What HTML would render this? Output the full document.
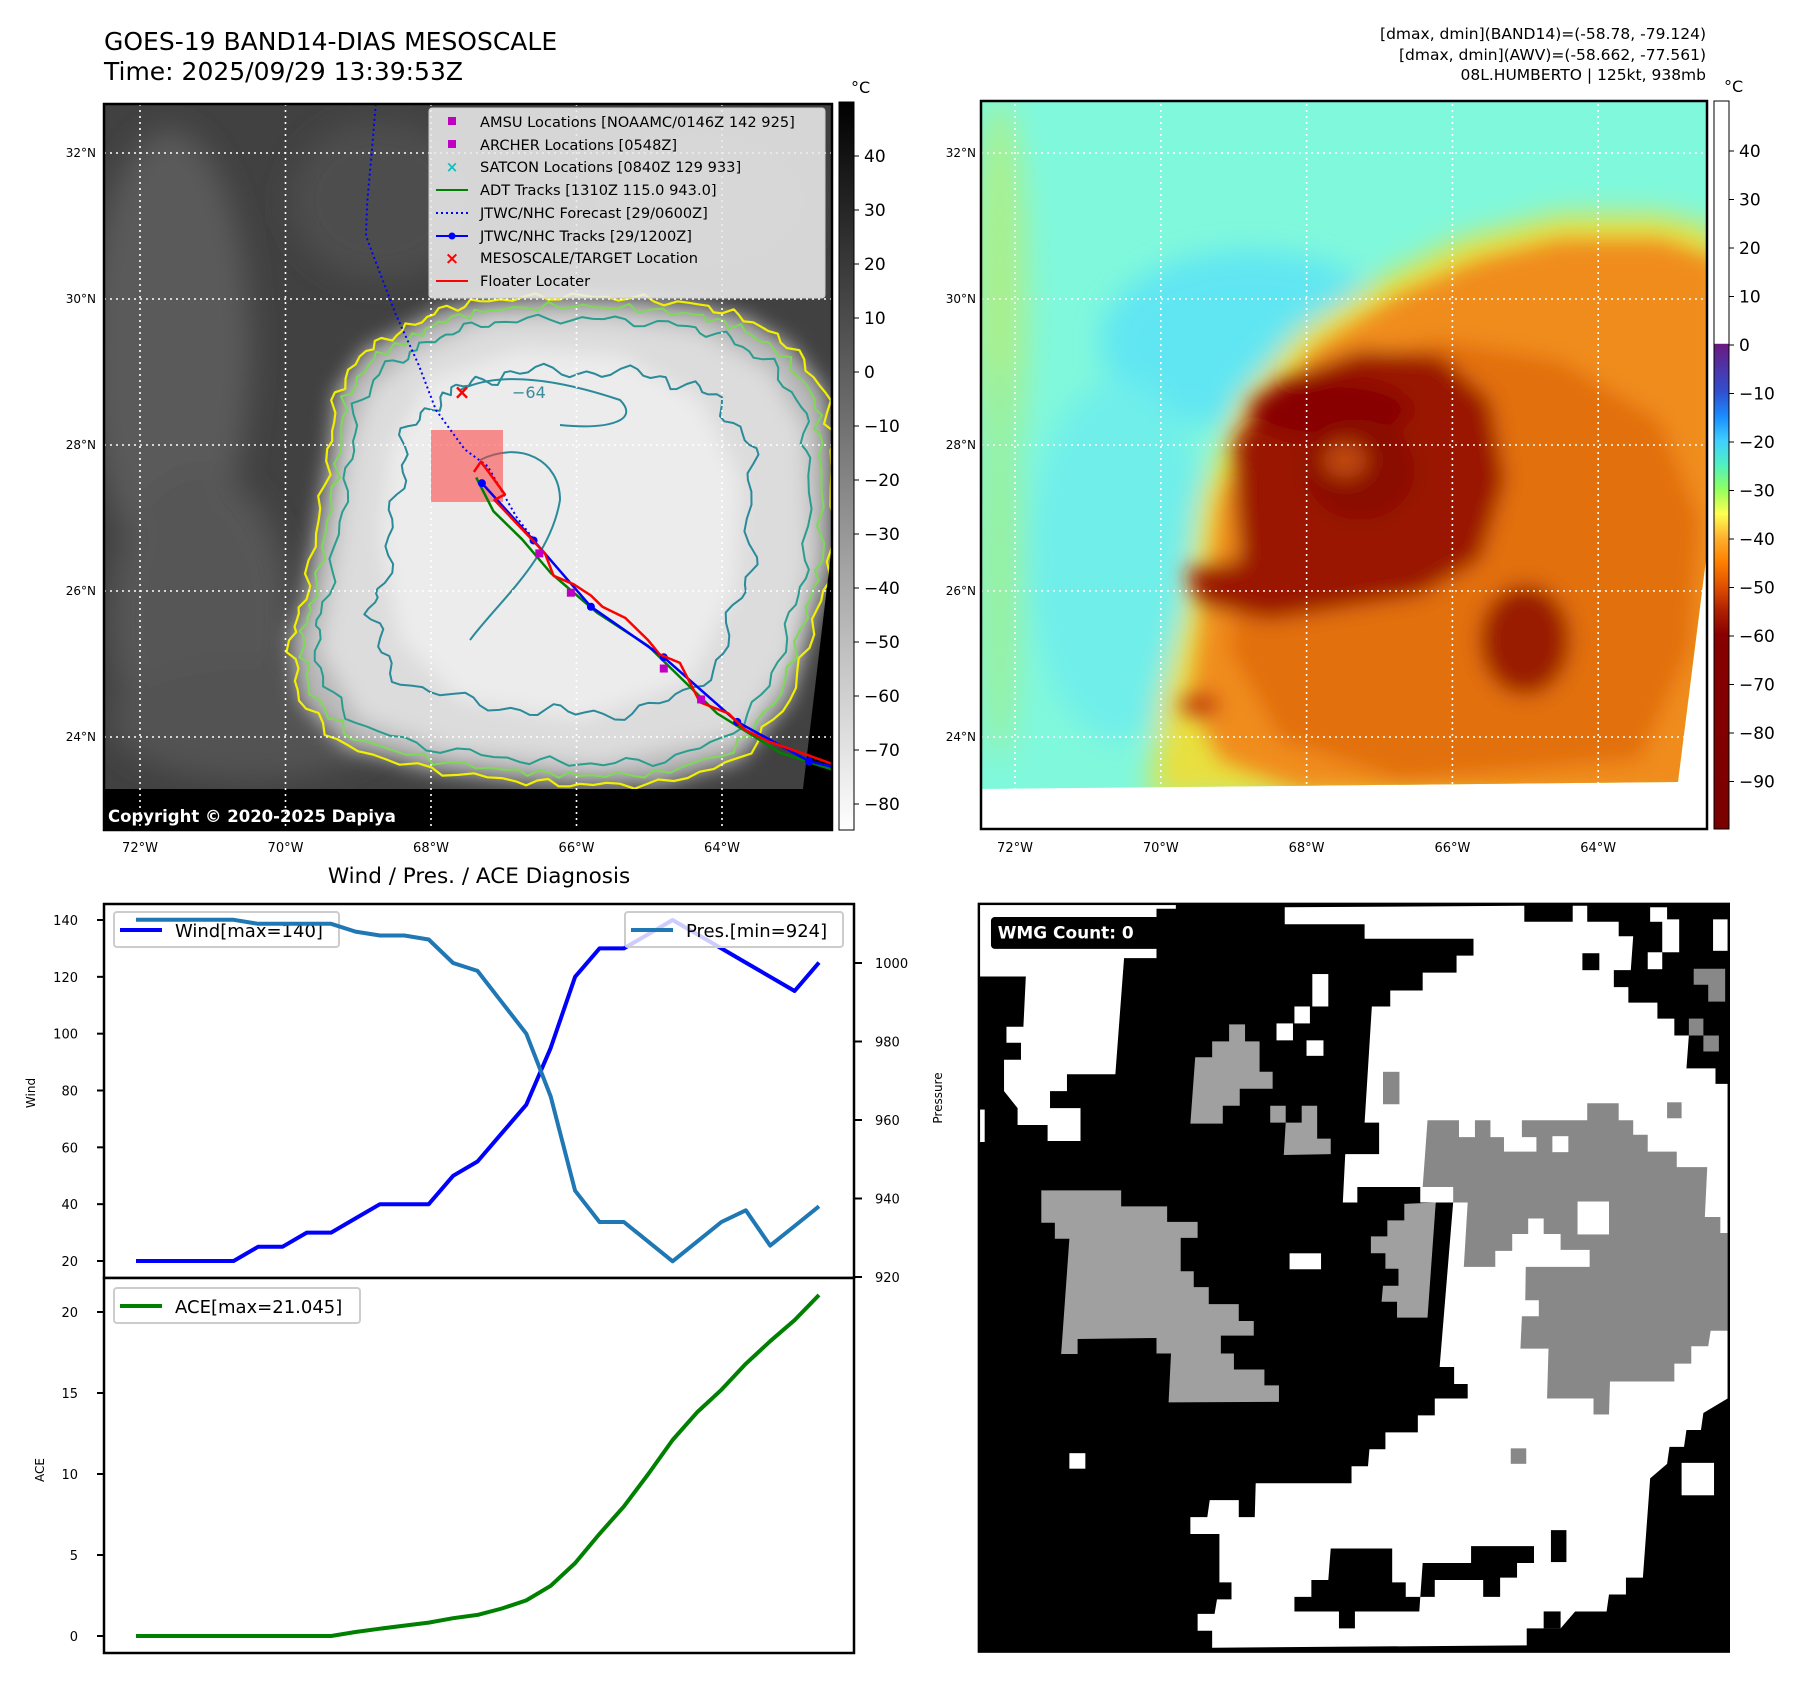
<!DOCTYPE html>
<html><head><meta charset="utf-8"><style>
html,body{margin:0;padding:0;background:#fff}
svg{display:block;font-family:"DejaVu Sans","Liberation Sans",sans-serif}
</style></head><body>
<svg id="root" width="1797" height="1690" viewBox="0 0 1797 1690" xmlns="http://www.w3.org/2000/svg">
<defs>
<filter id="b6" x="-20%" y="-20%" width="140%" height="140%"><feGaussianBlur stdDeviation="6"/></filter>
<filter id="b10" x="-20%" y="-20%" width="140%" height="140%"><feGaussianBlur stdDeviation="10"/></filter>
<filter id="b14" x="-30%" y="-30%" width="160%" height="160%"><feGaussianBlur stdDeviation="14"/></filter>
<clipPath id="clipL"><polygon points="104,104 832,104 832,545 803,789 104,789"/></clipPath>
<clipPath id="clipR"><polygon points="981,101 1706,101 1706,560 1678,782 981,789"/></clipPath>
<clipPath id="clipTop"><rect x="104" y="904" width="750" height="374"/></clipPath>
<clipPath id="clipBot"><rect x="104" y="1278" width="750" height="375"/></clipPath>
<linearGradient id="cbL" x1="0" y1="0" x2="0" y2="1"><stop offset="0" stop-color="#000"/><stop offset="1" stop-color="#fff"/></linearGradient>
<linearGradient id="cbR" x1="0" y1="0" x2="0" y2="1">
<stop offset="0" stop-color="#fff"/><stop offset="0.333" stop-color="#fff"/><stop offset="0.334" stop-color="#6a1a80"/>
<stop offset="0.40" stop-color="#3050d0"/><stop offset="0.433" stop-color="#1a8cff"/><stop offset="0.467" stop-color="#40d0ff"/>
<stop offset="0.50" stop-color="#50f0c0"/><stop offset="0.533" stop-color="#90ff60"/><stop offset="0.567" stop-color="#ffff50"/>
<stop offset="0.60" stop-color="#ffb030"/><stop offset="0.633" stop-color="#ff8000"/><stop offset="0.667" stop-color="#e05000"/>
<stop offset="0.70" stop-color="#b02000"/><stop offset="0.733" stop-color="#880000"/><stop offset="1" stop-color="#7a0000"/></linearGradient>
</defs>

<!-- Titles -->
<text x="104" y="50" font-size="25">GOES-19 BAND14-DIAS MESOSCALE</text>
<text x="104" y="80" font-size="25">Time: 2025/09/29 13:39:53Z</text>
<g font-size="15.5" text-anchor="end">
<text x="1706" y="39">[dmax, dmin](BAND14)=(-58.78, -79.124)</text>
<text x="1706" y="60">[dmax, dmin](AWV)=(-58.662, -77.561)</text>
<text x="1706" y="80">08L.HUMBERTO | 125kt, 938mb</text>
</g>

<!-- LEFT MAP -->
<g>
<rect x="104" y="104" width="728" height="726" fill="#000"/>
<g clip-path="url(#clipL)">
<rect x="104" y="104" width="728" height="690" fill="#414141"/>
<g filter="url(#b14)">
<ellipse cx="170" cy="350" rx="80" ry="220" fill="#5a5a5a"/>
<ellipse cx="200" cy="620" rx="90" ry="150" fill="#575757"/>
<ellipse cx="380" cy="200" rx="90" ry="80" fill="#4d4d4d"/>
<ellipse cx="250" cy="720" rx="140" ry="60" fill="#525252"/>
<ellipse cx="700" cy="200" rx="120" ry="80" fill="#4a4a4a"/>
</g>
<g filter="url(#b10)">
<path d="M402,331 L440,310 488,300 560,296 631,298 700,305 746,318 790,345 826,393 832,450 832,562 815,620 790,700 740,760 660,784 580,785 516,781 430,770 344,747 300,700 290,640 304,600 318,520 330,450 336,393 365,350Z" fill="#b8b8b8"/>
<path d="M420,350 L490,320 600,318 700,330 770,370 805,430 810,560 790,660 740,735 600,765 450,750 360,720 320,650 335,560 350,450 370,390Z" fill="#dcdcdc"/>
<path d="M430,380 L520,350 620,355 700,400 740,480 735,590 690,680 580,720 460,700 400,640 380,540 390,450Z" fill="#ececec"/>
</g>
<g id="contoursL" fill="none" stroke-linejoin="round"></g>
<path d="M832,104 L832,545 803,789 832,789Z" fill="#000"/>
</g>
<rect x="104" y="789" width="728" height="41" fill="#000"/>
<g id="gridL" stroke="#fff" stroke-width="1.6" stroke-dasharray="2,4"></g>
<rect x="431" y="430" width="72" height="72" fill="rgba(255,60,60,0.55)"/>
<g id="tracksL"></g>
<g>
<rect x="429" y="108" width="396" height="190" rx="3" fill="rgba(235,235,235,0.88)" stroke="#ccc"/>
<g font-size="14.6">
<rect x="448" y="117" width="8" height="8" fill="#c000c0"/><text x="480" y="127">AMSU Locations [NOAAMC/0146Z 142 925]</text>
<rect x="448" y="140" width="8" height="8" fill="#c000c0"/><text x="480" y="150">ARCHER Locations [0548Z]</text>
<text x="452" y="172" fill="#10c0c0" font-size="15" text-anchor="middle" font-weight="bold">×</text><text x="480" y="172">SATCON Locations [0840Z 129 933]</text>
<line x1="436" y1="190" x2="468" y2="190" stroke="#008000" stroke-width="2"/><text x="480" y="195">ADT Tracks [1310Z 115.0 943.0]</text>
<line x1="436" y1="213" x2="468" y2="213" stroke="#0000ff" stroke-width="2" stroke-dasharray="2,3"/><text x="480" y="218">JTWC/NHC Forecast [29/0600Z]</text>
<line x1="436" y1="236" x2="468" y2="236" stroke="#0000ff" stroke-width="2"/><circle cx="452" cy="236" r="3.5" fill="#0000ff"/><text x="480" y="241">JTWC/NHC Tracks [29/1200Z]</text>
<text x="452" y="264" fill="#f00" font-size="17" text-anchor="middle" font-weight="bold">×</text><text x="480" y="263">MESOSCALE/TARGET Location</text>
<line x1="436" y1="281" x2="468" y2="281" stroke="#ff0000" stroke-width="2"/><text x="480" y="286">Floater Locater</text>
</g></g>
<text x="108" y="822" font-size="16.5" font-weight="bold" fill="#fff">Copyright © 2020-2025 Dapiya</text>
<rect x="104" y="104" width="728" height="726" fill="none" stroke="#000" stroke-width="2.5"/>
</g>
<rect x="839" y="102" width="15" height="728" fill="url(#cbL)" stroke="#000" stroke-width="1"/>
<text x="851" y="93" font-size="16">°C</text>
<g id="cbLticks" font-size="17"></g>
<g id="axisL" font-size="12"></g>

<!-- RIGHT MAP -->
<g>
<rect x="981" y="101" width="726" height="728" fill="#fff"/>
<g clip-path="url(#clipR)">
<rect x="981" y="101" width="726" height="690" fill="#80f8dc"/>
<g filter="url(#b14)">
<ellipse cx="1250" cy="340" rx="150" ry="90" fill="#60e6f2"/>
<ellipse cx="1120" cy="560" rx="90" ry="180" fill="#70eeea"/>
<ellipse cx="1000" cy="300" rx="28" ry="200" fill="#a8f090"/>
<ellipse cx="1000" cy="560" rx="22" ry="200" fill="#98f0a0"/>
<path d="M1185,610 L1200,500 1240,400 1300,330 1380,280 1460,240 1560,215 1660,215 1720,230 1720,800 1150,800 1160,700Z" fill="#e8e040"/>
</g>
<g filter="url(#b10)">
<path d="M1205,600 L1220,500 1260,410 1320,345 1400,295 1480,260 1560,240 1660,240 1720,260 1720,800 1300,790 1220,760 1190,700Z" fill="#f08c1a"/>
<path d="M1240,560 L1250,470 1290,400 1350,360 1440,340 1560,360 1660,420 1700,520 1690,650 1640,760 1400,780 1280,740 1230,650Z" fill="#e27010"/>
<path d="M1235,440 L1280,380 1360,350 1440,355 1490,400 1505,480 1480,560 1420,595 1330,610 1270,620 1200,605 1185,570 1240,560 1235,500Z" fill="#9a1800"/>
<ellipse cx="1330" cy="410" rx="80" ry="30" fill="#880000"/>
<ellipse cx="1360" cy="470" rx="55" ry="50" fill="#8a0800"/>
<ellipse cx="1345" cy="460" rx="22" ry="18" fill="#c04a10"/>
<ellipse cx="1525" cy="640" rx="45" ry="55" fill="#9a1a00"/>
<ellipse cx="1200" cy="705" rx="20" ry="12" fill="#c03010"/>
</g>
<path d="M1706,101 L1706,560 1678,782 1706,782Z" fill="#fff"/>
</g>
<g id="gridR" stroke="#fff" stroke-width="1.6" stroke-dasharray="2,4"></g>
<rect x="981" y="101" width="726" height="728" fill="none" stroke="#000" stroke-width="2.5"/>
</g>
<rect x="1714" y="101" width="15" height="728" fill="url(#cbR)" stroke="#000" stroke-width="1"/>
<text x="1724" y="92" font-size="16">°C</text>
<g id="cbRticks" font-size="17"></g>
<g id="axisR" font-size="12"></g>

<!-- DIAGNOSIS CHART -->
<text x="479" y="883" font-size="21.5" text-anchor="middle">Wind / Pres. / ACE Diagnosis</text>
<g id="chart"></g>

<!-- WMG PANEL -->
<g>
<svg x="975" y="900" width="755" height="755" viewBox="0 0 1560 1560">
<rect x="8" y="8" width="1550" height="1545" fill="#000"/>
<g fill="#fff">
<polygon points="10,10 415,10 415,18 375,18 375,120 308,120 290,360 190,360 190,395 155,395 155,430 218,430 218,498 150,498 150,465 88,465 88,430 60,395 60,330 95,330 95,295 65,295 65,262 100,262 105,158 10,158"/>
<polygon points="640,15 1135,12 1135,45 1235,45 1235,12 1265,12 1265,45 1330,45 1330,75 1360,75 1355,145 1320,145 1320,180 1350,180 1350,212 1410,212 1410,245 1445,245 1445,280 1475,280 1470,348 1530,348 1530,380 1555,380 1555,1030 1505,1060 1500,1095 1470,1095 1465,1130 1435,1130 1430,1165 1395,1195 1380,1400 1345,1400 1345,1435 1310,1435 1305,1470 1240,1470 1210,1505 1140,1505 1140,1540 490,1545 490,1510 460,1510 460,1475 495,1475 500,1445 530,1445 530,1410 505,1410 505,1310 445,1310 445,1275 480,1275 485,1240 545,1240 545,1275 578,1275 580,1205 778,1205 778,1170 812,1170 815,1135 848,1135 848,1100 915,1100 915,1065 950,1065 950,1030 1018,1030 1018,1000 990,1000 990,965 960,965 988,625 920,625 920,593 790,593 790,625 760,625 765,525 835,525 835,460 805,460 820,220 858,220 858,187 925,187 925,150 995,150 995,115 1030,115 1030,80 805,80 805,50 640,50"/>
<rect x="1395" y="15" width="35" height="30"/><rect x="1420" y="40" width="35" height="68"/><rect x="1390" y="108" width="30" height="35"/><rect x="1525" y="40" width="30" height="65"/>
<rect x="697" y="153" width="33" height="67"/><rect x="660" y="220" width="32" height="35"/><rect x="623" y="255" width="34" height="35"/><rect x="685" y="290" width="35" height="32"/>
<rect x="650" y="730" width="65" height="33"/><rect x="195" y="1143" width="33" height="32"/><rect x="10" y="433" width="10" height="67"/>
<rect x="1460" y="1163" width="67" height="67"/>
</g>
<g fill="#000">
<rect x="1255" y="110" width="35" height="35"/>
<rect x="1190" y="1302" width="32" height="66"/>
<rect x="1175" y="1470" width="35" height="35"/>
<polygon points="735,1340 862,1340 862,1410 890,1410 890,1440 950,1440 950,1405 1050,1405 1050,1440 1085,1440 1085,1400 1120,1400 1120,1370 1155,1370 1155,1335 1025,1335 1025,1370 925,1370 918,1470 785,1470 785,1505 752,1505 752,1470 660,1470 660,1440 695,1440 695,1405 730,1405"/>
</g>
<g fill="#a0a0a0">
<polygon points="137,600 302,600 302,633 397,633 397,665 460,665 460,698 425,698 425,767 452,767 452,800 483,800 483,835 545,835 545,870 576,870 576,900 508,900 508,937 535,937 535,970 598,970 598,1003 628,1003 628,1037 400,1038 405,937 375,937 375,905 212,907 212,938 178,938 195,700 165,700 165,667 137,667"/>
<polygon points="525,257 558,257 558,292 588,292 588,355 615,355 615,390 547,390 547,425 512,425 512,462 445,462 455,325 490,325 490,292 525,292"/>
<polygon points="610,425 642,425 642,460 675,460 675,425 707,425 707,493 735,493 735,525 638,527 642,460 610,460"/>
<polygon points="887,628 952,625 935,863 872,863 872,830 840,830 843,797 875,797 875,762 848,762 848,730 818,730 818,695 852,695 852,662 887,662"/>
</g>
<g fill="#888">
<rect x="843" y="355" width="34" height="67"/>
<polygon points="935,455 1000,455 1000,490 1033,490 1033,455 1065,455 1065,490 1093,490 1093,520 1160,520 1160,490 1130,490 1130,455 1265,455 1265,420 1330,420 1330,455 1360,455 1360,485 1390,485 1390,520 1450,520 1450,552 1513,552 1508,655 1540,655 1540,688 1555,688 1555,890 1520,890 1515,922 1480,922 1480,958 1445,958 1445,995 1312,995 1310,1063 1278,1063 1278,1030 1182,1030 1185,927 1127,927 1130,860 1165,860 1165,827 1137,827 1138,758 1270,758 1270,723 1210,723 1210,690 1175,690 1175,658 1143,658 1143,690 1110,690 1110,725 1075,725 1075,758 1010,758 1018,625 988,625 988,593 925,593"/>
<rect x="1430" y="418" width="30" height="33"/><rect x="1107" y="1133" width="32" height="32"/>
<polygon points="1485,142 1550,142 1550,210 1515,210 1515,175 1485,175"/>
<rect x="1475" y="245" width="30" height="35"/><rect x="1505" y="280" width="32" height="33"/>
</g>
<g fill="#fff"><rect x="1193" y="488" width="33" height="33"/><rect x="1245" y="623" width="65" height="68"/></g>
<rect x="33" y="35" width="362" height="66" rx="8" fill="#000"/>
<text x="47" y="80" font-size="35" font-weight="bold" fill="#fff" font-family="DejaVu Sans, Liberation Sans, sans-serif">WMG Count: 0</text>
<rect x="8" y="8" width="1550" height="1545" fill="none" stroke="#000" stroke-width="5"/>
</svg>
</g>
</svg>
<script>
// ===== Chart data =====
const steps = [0,1,2,3,4,5,6,7,8,9,10,11,12,13,14,15,16,17,18,19,20,21,22,23,24,25,26,27,28];
const windValues = [20,20,20,20,20,25,25,30,30,35,40,40,40,50,55,65,75,95,120,130,130,135,140,135,130,125,120,115,125];
const presValues = [1011,1011,1011,1011,1011,1010,1010,1010,1010,1008,1007,1007,1006,1000,998,990,982,966,942,934,934,929,924,929,934,937,928,933,938];
const aceValues = [0,0,0,0,0,0,0,0,0,0.25,0.45,0.64,0.83,1.1,1.3,1.7,2.2,3.1,4.5,6.3,8.0,10.0,12.1,13.8,15.2,16.8,18.2,19.5,21.05];
const windTicks = [20,40,60,80,100,120,140];
const presTicks = [920,940,960,980,1000];
const aceTicks = [0,5,10,15,20];
// Map axis data
const latTicks = [24,26,28,30,32];
const lonTicks = [72,70,68,66,64];
const cbLeftTicks = [40,30,20,10,0,-10,-20,-30,-40,-50,-60,-70,-80];
const cbRightTicks = [40,30,20,10,0,-10,-20,-30,-40,-50,-60,-70,-80,-90];

const NS = 'http://www.w3.org/2000/svg';
function mk(tag, attrs, parent){const e=document.createElementNS(NS,tag);for(const k in attrs)e.setAttribute(k,attrs[k]);parent.appendChild(e);return e;}
function fmt(v){return v<0?'\u2212'+Math.abs(v):String(v);}

const xS = i => 136 + i*(819-136)/28;
const yW = v => 1261 - (v-20)*(1261-920)/120;
const yP = v => 1277 - (v-920)*(1277-963)/80;
const yA = v => 1636 - v*(1636-1312)/20;
const latY = l => 737 - (l-24)*73;
const lonXL = w => 140 + (72-w)*72.75;
const lonXR = w => 1015 + (72-w)*72.9;
const cbLY = v => 804 - (v+80)*5.4;
const cbRY = v => 345 - v*4.85;

const chart = document.getElementById('chart');
let r=mk('rect',{x:104,y:904,width:750,height:374,fill:'#fff',stroke:'#000','stroke-width':2.5},chart);


r=mk('rect',{x:104,y:1278,width:750,height:375,fill:'#fff',stroke:'#000','stroke-width':2.5},chart);



function line(vals, yf, color, clip, name){
  const pts = vals.map((v,i)=>xS(steps[i]).toFixed(1)+','+yf(v).toFixed(1)).join(' ');
  const p = mk('polyline',{points:pts,fill:'none',stroke:color,'stroke-width':4,'stroke-linejoin':'round','clip-path':'url(#'+clip+')'},chart);
  
  
}
function legend(x,y,w,label,color,name){
  const g = mk('g',{},chart);
  
  
  mk('rect',{x:x,y:y,width:w,height:35,rx:3,fill:'rgba(255,255,255,0.8)',stroke:'#ccc','stroke-width':2},g);
  mk('line',{x1:x+6,y1:y+18,x2:x+48,y2:y+18,stroke:color,'stroke-width':4},g);
  const t=mk('text',{x:x+61,y:y+25,'font-size':18},g); t.textContent=label;
}
windTicks.forEach(v=>{const y=yW(v);mk('line',{x1:97,y1:y,x2:104,y2:y,stroke:'#000','stroke-width':2},chart);
  const t=mk('text',{x:78,y:y+5,'font-size':13,'text-anchor':'end'},chart);t.textContent=v;
  
  });
presTicks.forEach(v=>{const y=yP(v);mk('line',{x1:854,y1:y,x2:862,y2:y,stroke:'#000','stroke-width':2},chart);
  const t=mk('text',{x:875,y:y+5,'font-size':13},chart);t.textContent=v;
  
  });
aceTicks.forEach(v=>{const y=yA(v);mk('line',{x1:97,y1:y,x2:104,y2:y,stroke:'#000','stroke-width':2},chart);
  const t=mk('text',{x:78,y:y+5,'font-size':13,'text-anchor':'end'},chart);t.textContent=v;
  
  });
let at=mk('text',{x:35,y:1093,'font-size':12,'text-anchor':'middle',transform:'rotate(-90 35 1093)'},chart);at.textContent='Wind';


at=mk('text',{x:942,y:1098,'font-size':12,'text-anchor':'middle',transform:'rotate(-90 942 1098)'},chart);at.textContent='Pressure';


at=mk('text',{x:44,y:1470,'font-size':12,'text-anchor':'middle',transform:'rotate(-90 44 1470)'},chart);at.textContent='ACE';



line(windValues,yW,'#0000ff','clipTop','wind-line');
legend(114,912,225,'Wind[max='+Math.max(...windValues)+']','#0000ff','wind-legend');
line(presValues,yP,'#1f77b4','clipTop','pressure-line');
legend(625,912,218,'Pres.[min='+Math.min(...presValues)+']','#1f77b4','pressure-legend');
line(aceValues,yA,'#008000','clipBot','ace-line');
legend(114,1288,246,'ACE[max=21.045]','#008000','ace-legend');

function grid(id, lonX, x0, x1){
  const g=document.getElementById(id);
  latTicks.forEach(l=>{const y=latY(l);mk('line',{x1:x0,y1:y,x2:x1,y2:y},g);});
  lonTicks.forEach(w=>{const x=lonX(w);mk('line',{x1:x,y1:104,x2:x,y2:828},g);});
}
grid('gridL',lonXL,104,832);
grid('gridR',lonXR,981,1706);
function axisLabels(id, lonX, latX){
  const g=document.getElementById(id);
  latTicks.forEach(l=>{const t=mk('text',{x:latX,y:latY(l)+4,'text-anchor':'end'},g);t.textContent=l+'°N';
    
    });
  lonTicks.forEach(w=>{const t=mk('text',{x:lonX(w),y:852,'text-anchor':'middle','font-size':13},g);t.textContent=w+'°W';
    
    });
}
axisLabels('axisL',lonXL,96);
axisLabels('axisR',lonXR,976);
function cbTicks(id, vals, yf, x){
  const g=document.getElementById(id);
  vals.forEach(v=>{const y=yf(v);mk('line',{x1:x-6,y1:y,x2:x-1,y2:y,stroke:'#000','stroke-width':1},g);
    const t=mk('text',{x:x+4,y:y+6},g);t.textContent=fmt(v);
    
    });
}
cbTicks('cbLticks',cbLeftTicks,cbLY,860);
cbTicks('cbRticks',cbRightTicks,cbRY,1735);

// ===== Contours (decorative) =====
const stormPts=[[402,331],[440,310],[488,300],[560,296],[631,298],[700,305],[746,318],[790,345],[826,393],[832,450],[832,562],[815,620],[790,700],[740,760],[660,784],[580,785],[516,781],[430,770],[344,747],[300,700],[290,640],[304,600],[318,520],[330,450],[336,393],[365,350]];
const cg=document.getElementById('contoursL');
function contour(k,color,w,amp,freq){
  const cx=565,cy=545;let d='';
  const n=stormPts.length;
  for(let s=0;s<n*6;s++){
    const i=Math.floor(s/6),f=(s%6)/6;const a=stormPts[i],b=stormPts[(i+1)%n];
    let x=a[0]+(b[0]-a[0])*f,y=a[1]+(b[1]-a[1])*f;
    const j=1+amp*Math.sin(s*freq)*Math.cos(s*0.37);
    x=cx+(x-cx)*k*j;y=cy+(y-cy)*k*j;
    d+=(s?'L':'M')+x.toFixed(1)+','+y.toFixed(1);
  }
  mk('path',{d:d+'Z',stroke:color,'stroke-width':w},cg);
}
contour(1.0,'#f0f000',2.2,0.02,1.7);
contour(0.96,'#7ed957',2,0.02,2.3);
contour(0.91,'#2a9d8f',2,0.025,1.3);
contour(0.7,'#2a8a9a',2,0.05,0.9);
mk('path',{d:'M460,390 C500,370 560,380 620,400 C640,420 610,430 560,425 M480,460 C520,440 560,460 560,500 C550,560 500,600 470,640',fill:'none',stroke:'#2a8a9a','stroke-width':2},cg);
let lab=mk('text',{x:512,y:398,'font-size':16,fill:'#3a8a9a'},cg);lab.textContent='−64';

// ===== Tracks =====
const tg=document.getElementById('tracksL');
const sx=1/1.743, sy=1/1.78;
function trk(pts,color,w,dash){
  const p=pts.map(q=>(q[0]*sx).toFixed(1)+','+(q[1]*sy).toFixed(1)).join(' ');
  const e=mk('polyline',{points:p,fill:'none',stroke:color,'stroke-width':w,'stroke-linejoin':'round'},tg);
  if(dash)e.setAttribute('stroke-dasharray',dash);
  return e;
}
const fcPts=[[655,185],[648,270],[640,360],[638,420],[660,480],[690,560],[730,650],[760,730],[810,800],[850,830],[900,920],[930,960]];
const adtPts=[[830,850],[860,910],[910,960],[960,1020],[1040,1090],[1130,1150],[1250,1270],[1360,1340],[1451,1370]];
const bestPts=[[840,860],[930,962],[1030,1080],[1157,1170],[1285,1285],[1410,1355],[1451,1365]];
const redPts=[[826,840],[838,822],[848,835],[880,880],[862,890],[950,985],[965,1025],[1000,1040],[1030,1060],[1050,1080],[1090,1100],[1130,1140],[1150,1165],[1185,1180],[1220,1250],[1270,1270],[1300,1300],[1340,1320],[1410,1345],[1451,1360]];
trk(fcPts,'#0000ff',2,'2,3');
trk(adtPts,'#008000',2.5);
trk(bestPts,'#0000ff',2.5);
bestPts.slice(0,6).forEach(q=>mk('circle',{cx:q[0]*sx,cy:q[1]*sy,r:4,fill:'#0000ff'},tg));
trk(redPts,'#ff0000',2.5);
[[940,985],[995,1055],[1157,1190],[1222,1245]].forEach(q=>mk('rect',{x:q[0]*sx-4,y:q[1]*sy-4,width:8,height:8,fill:'#c000c0'},tg));
let xm=mk('text',{x:462,y:399,'font-size':20,'font-weight':'bold',fill:'#f00','text-anchor':'middle'},tg);xm.textContent='×';


</script>
</body></html>
